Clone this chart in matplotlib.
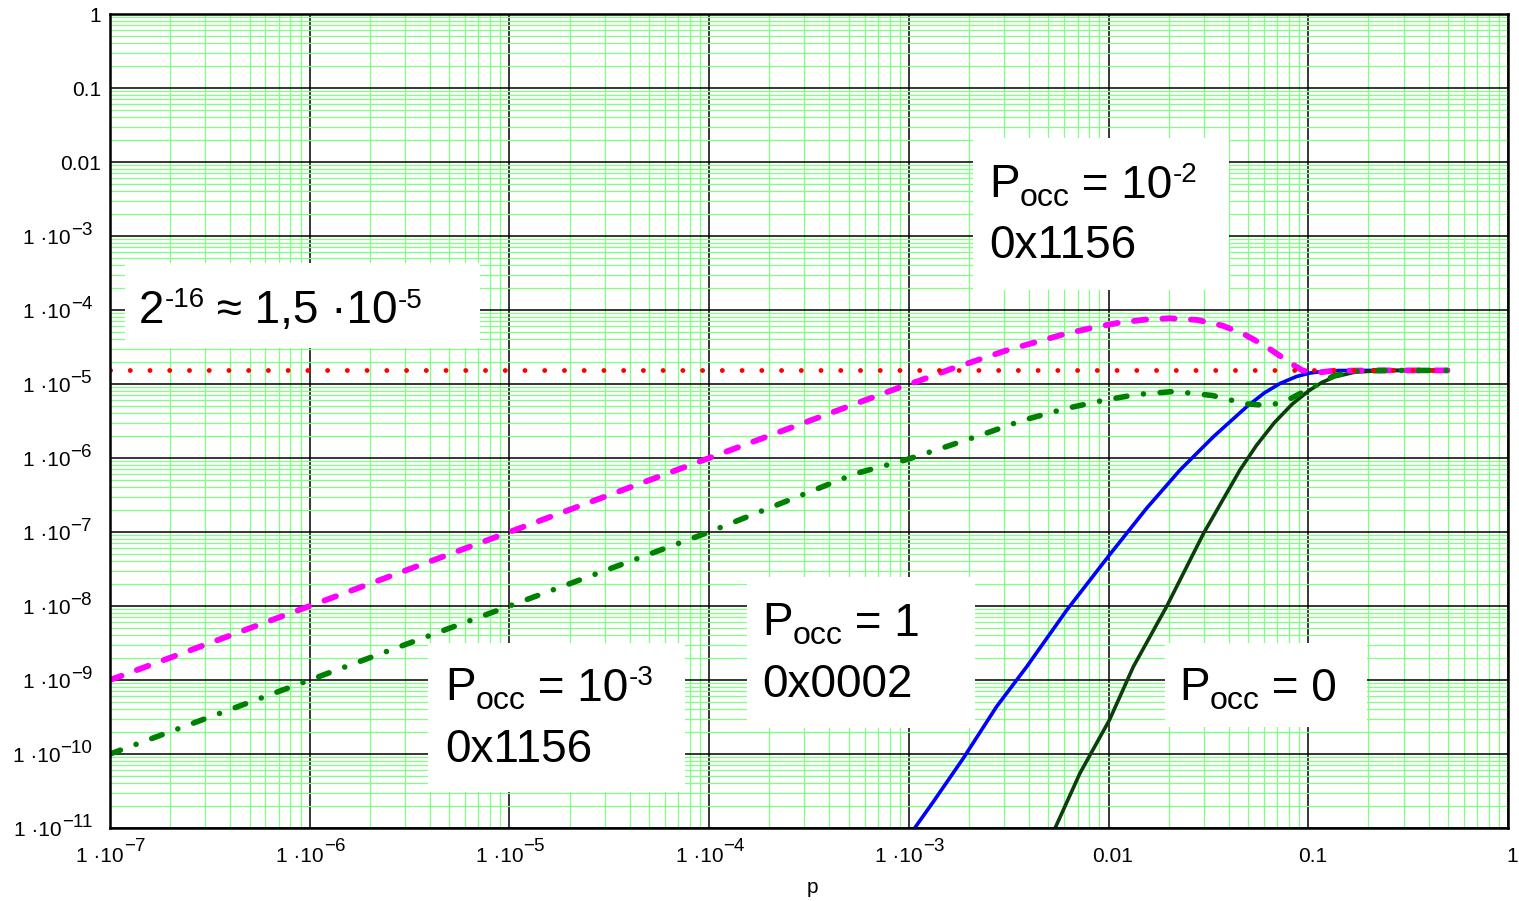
import matplotlib
matplotlib.use('Agg')
import matplotlib.pyplot as plt
from matplotlib.patches import Rectangle
from matplotlib.ticker import FixedLocator, LogLocator, NullFormatter
from matplotlib.transforms import offset_copy

plt.rcParams['font.family'] = ['Liberation Sans', 'DejaVu Sans']

# ---------------- data ----------------
# P_occ = 1e-2 (magenta dashed)
p_m = [1e-7, 1e-6, 1e-5, 1e-4, 5.4e-4, 8.6e-4, 1.13e-3, 1.63e-3, 2.17e-3, 3.05e-3,
       4.29e-3, 6.03e-3, 8.47e-3, 1.107e-2, 1.52e-2, 2.03e-2, 2.79e-2, 3.72e-2,
       4.75e-2, 6.05e-2, 7.18e-2, 8.51e-2, 9.38e-2, 0.111, 0.13, 0.2, 0.3, 0.5]
y_m = [1e-9, 1e-8, 1e-7, 1e-6, 5.4e-6, 8.6e-6, 1.11e-5, 1.60e-5, 2.07e-5, 2.82e-5,
       3.66e-5, 4.74e-5, 5.83e-5, 6.67e-5, 7.41e-5, 7.73e-5, 7.33e-5, 6.15e-5,
       4.74e-5, 3.30e-5, 2.42e-5, 1.78e-5, 1.52e-5, 1.42e-5, 1.50e-5, 1.526e-5, 1.526e-5, 1.526e-5]

# P_occ = 1e-3 (green dash-dot)
p_g = [1e-7, 1e-6, 1e-5, 1e-4, 5.4e-4, 9.5e-4, 1.44e-3, 2.40e-3, 3.71e-3, 6.03e-3,
       9.33e-3, 1.38e-2, 2.13e-2, 3.30e-2, 4.88e-2, 6.21e-2, 7.53e-2, 0.101, 0.135,
       0.172, 0.25, 0.5]
y_g = [1e-10, 1e-9, 1e-8, 1e-7, 6.15e-7, 9.31e-7, 1.34e-6, 2.13e-6, 3.22e-6, 4.62e-6,
       5.98e-6, 7.21e-6, 7.93e-6, 7.0e-6, 5.40e-6, 5.12e-6, 5.69e-6, 8.61e-6, 1.30e-5,
       1.49e-5, 1.526e-5, 1.526e-5]

# P_occ = 1 (blue solid)
p_b = [1.07e-3, 1.33e-3, 1.87e-3, 2.75e-3, 3.89e-3, 6.18e-3, 1.01e-2, 1.55e-2,
       2.28e-2, 3.35e-2, 4.92e-2, 6.03e-2, 7.24e-2, 8.71e-2, 0.101, 0.12, 0.141,
       0.2, 0.5]
y_b = [1e-11, 2.29e-11, 8.7e-11, 4.37e-10, 1.51e-9, 8.83e-9, 4.89e-8, 2.09e-7,
       6.89e-7, 1.94e-6, 4.94e-6, 7.59e-6, 1.02e-5, 1.26e-5, 1.40e-5, 1.49e-5,
       1.52e-5, 1.526e-5, 1.526e-5]

# P_occ = 0 (dark green solid)
p_d = [5.40e-3, 7.19e-3, 1.01e-2, 1.33e-2, 1.95e-2, 2.99e-2, 4.55e-2, 5.50e-2,
       6.76e-2, 8.32e-2, 0.101, 0.117, 0.135, 0.172, 0.25, 0.5]
y_d = [1e-11, 5.5e-11, 2.88e-10, 1.51e-9, 9.77e-9, 9.59e-8, 6.89e-7, 1.48e-6,
       3.0e-6, 5.37e-6, 8.17e-6, 1.05e-5, 1.245e-5, 1.45e-5, 1.526e-5, 1.526e-5]

# 2^-16 threshold (red dotted)
p_r = [1e-7, 0.5]
y_r = [1.526e-5, 1.526e-5]

x_ticks = [1e-7, 1e-6, 1e-5, 1e-4, 1e-3, 1e-2, 1e-1, 1]
x_labels = [('1 ·10', '\u22127'), ('1 ·10', '\u22126'), ('1 ·10', '\u22125'),
            ('1 ·10', '\u22124'), ('1 ·10', '\u22123'), ('0.01', ''), ('0.1', ''),
            ('1', '')]
y_ticks = [1, 1e-1, 1e-2, 1e-3, 1e-4, 1e-5, 1e-6, 1e-7, 1e-8, 1e-9, 1e-10, 1e-11]
y_labels = [('1', ''), ('0.1', ''), ('0.01', ''), ('1 ·10', '\u22123'),
            ('1 ·10', '\u22124'), ('1 ·10', '\u22125'), ('1 ·10', '\u22126'),
            ('1 ·10', '\u22127'), ('1 ·10', '\u22128'), ('1 ·10', '\u22129'),
            ('1 ·10', '\u221210'), ('1 ·10', '\u221211')]

# ---------------- figure ----------------
W, H = 1519, 901
fig = plt.figure(figsize=(W / 100, H / 100), dpi=100)
ax = fig.add_axes([110 / W, 1 - 828 / H, (1508 - 110) / W, (828 - 14) / H])
ax.set_xscale('log')
ax.set_yscale('log')
ax.set_xlim(1e-7, 1)
ax.set_ylim(1e-11, 1)

ax.xaxis.set_major_locator(FixedLocator(x_ticks))
ax.yaxis.set_major_locator(FixedLocator(y_ticks))
ax.xaxis.set_minor_locator(LogLocator(base=10, subs=range(2, 10), numticks=100))
ax.yaxis.set_minor_locator(LogLocator(base=10, subs=range(2, 10), numticks=100))
ax.xaxis.set_major_formatter(NullFormatter())
ax.yaxis.set_major_formatter(NullFormatter())
ax.xaxis.set_minor_formatter(NullFormatter())
ax.yaxis.set_minor_formatter(NullFormatter())
ax.tick_params(which='both', length=0)
ax.set_axisbelow(True)
ax.grid(which='minor', color='#80ff80', lw=0.9)
ax.grid(which='major', color='black', lw=1.1)
for s in ax.spines.values():
    s.set_linewidth(1.8)
    s.set_zorder(5)

# ---- tick labels (base + nearly full size raised exponent) ----
BASE_FS = 15
EXP_FS = 13.5


def desc_px(fs):
    return 0.212 * fs * 100 / 72


RISE = 9  # exponent raise in pixels
for v, (base, ex) in zip(y_ticks, y_labels):
    if ex:
        tr = offset_copy(ax.get_yaxis_transform(), fig=fig, x=-18, y=-8 + RISE,
                         units='dots')
        te = ax.text(0, v, ex, transform=tr, fontsize=EXP_FS, ha='right',
                     va='baseline', clip_on=False)
        ax.annotate(base, xy=(0, 0), xycoords=te, xytext=(0, -RISE + desc_px(EXP_FS)),
                    textcoords='offset pixels', fontsize=BASE_FS, ha='right',
                    va='baseline', annotation_clip=False)
    else:
        tr = offset_copy(ax.get_yaxis_transform(), fig=fig, x=-9, y=-8, units='dots')
        ax.text(0, v, base, transform=tr, fontsize=BASE_FS, ha='center' if False else 'right',
                va='baseline', clip_on=False)

for v, (base, ex) in zip(x_ticks, x_labels):
    if ex:
        tr = offset_copy(ax.get_xaxis_transform(), fig=fig, x=14, y=-34, units='dots')
        tb = ax.text(v, 0, base, transform=tr, fontsize=BASE_FS, ha='right',
                     va='baseline', clip_on=False)
        ax.annotate(ex, xy=(1, 0), xycoords=tb, xytext=(0, RISE + 2 + desc_px(BASE_FS)),
                    textcoords='offset pixels', fontsize=EXP_FS, ha='left',
                    va='baseline', annotation_clip=False)
    else:
        tr = offset_copy(ax.get_xaxis_transform(), fig=fig, x=4, y=-34, units='dots')
        ax.text(v, 0, base, transform=tr, fontsize=BASE_FS, ha='center',
                va='baseline', clip_on=False)

fig.text(812 / W, 1 - 893 / H, 'p', fontsize=BASE_FS, ha='center', va='baseline')

# ---------------- curves ----------------
ax.plot(p_b, y_b, color='#0000ff', lw=2.6, zorder=3)
ax.plot(p_d, y_d, color='#0a3f0a', lw=2.6, zorder=3)
ax.plot(p_m, y_m, color='#ff00ff', lw=4.2, linestyle=(0, (2.1, 2.8)),
        dash_capstyle='round', zorder=3.2)
ax.plot(p_g, y_g, color='#008000', lw=4, linestyle=(0, (2.0, 3.0, 0.01, 3.0)),
        dash_capstyle='round', zorder=3.3)
ax.plot(p_r, y_r, color='#ff0000', lw=3.5, linestyle=(0, (0.01, 4.05)),
        dash_capstyle='round', zorder=3.4)


# ---------------- annotation boxes ----------------
def fx(x):
    return x / W


def fy(y):
    return 1 - y / H


boxes = [(125, 263, 480, 348), (973, 138, 1229, 290), (428, 643, 685, 792),
         (747, 577, 975, 728), (1165, 643, 1367, 727)]
for x0, y0, x1, y1 in boxes:
    ax.add_patch(Rectangle((fx(x0), fy(y1)), fx(x1) - fx(x0), fy(y0) - fy(y1),
                           transform=fig.transFigure, facecolor='white',
                           edgecolor='none', zorder=1.5))

BIG = 33
SUB = 23
SUP = 20


def chain(x, y, parts):
    """parts: list of (text, fontsize, rise_px); x, y = pixel baseline start."""
    prev = None
    prev_rise = 0
    prev_fs = 0
    for txt, fs, rise in parts:
        if prev is None:
            t = fig.text(fx(x), fy(y - rise), txt, fontsize=fs, ha='left',
                         va='baseline', zorder=4)
        else:
            off = rise - prev_rise + desc_px(prev_fs)
            t = ax.annotate(txt, xy=(1, 0), xycoords=prev, xytext=(0, off),
                            textcoords='offset pixels', fontsize=fs, ha='left',
                            va='baseline', annotation_clip=False, zorder=4)
        prev, prev_rise, prev_fs = t, rise, fs


chain(139, 323, [('2', BIG, 0), ('-16', SUP, 16), (' \u2248 1,5 \u00b710', BIG, 0),
                 ('-5', SUP, 16)])
chain(989, 197, [('P', BIG, 0), ('occ', SUB, -9), (' = 10', BIG, 0), ('-2', SUP, 16)])
chain(989, 258, [('0x1156', BIG, 0)])
chain(445, 700, [('P', BIG, 0), ('occ', SUB, -9), (' = 10', BIG, 0), ('-3', SUP, 16)])
chain(445, 762, [('0x1156', BIG, 0)])
chain(762, 635, [('P', BIG, 0), ('occ', SUB, -9), (' = 1', BIG, 0)])
chain(762, 697, [('0x0002', BIG, 0)])
chain(1179, 700, [('P', BIG, 0), ('occ', SUB, -9), (' = 0', BIG, 0)])

fig.savefig('out.png', dpi=100)
